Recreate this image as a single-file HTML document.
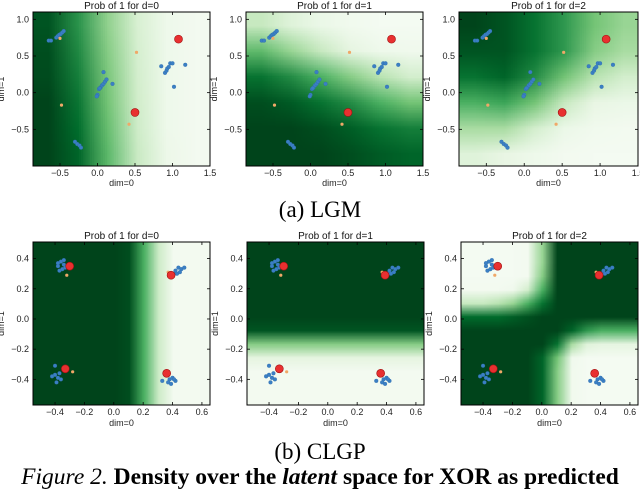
<!DOCTYPE html>
<html><head><meta charset="utf-8">
<style>
html,body{margin:0;padding:0;background:#fff;}
#wrap{position:relative;width:640px;height:495px;overflow:hidden;font-family:"Liberation Sans",sans-serif;}
canvas{position:absolute;}
svg{position:absolute;left:0;top:0;}
.cap{position:absolute;width:640px;text-align:center;font-family:"Liberation Serif",serif;color:#000;}
</style></head>
<body>
<div id="wrap">
<canvas id="h0" width="6" height="6"></canvas>
<canvas id="h1" width="6" height="6"></canvas>
<canvas id="h2" width="6" height="6"></canvas>
<canvas id="h3" width="12" height="12"></canvas>
<canvas id="h4" width="12" height="12"></canvas>
<canvas id="h5" width="12" height="12"></canvas>
<svg id="sv" width="640" height="495" xmlns="http://www.w3.org/2000/svg"></svg>
<div class="cap" style="top:197px;font-size:23px;">(a) LGM</div>
<div class="cap" style="top:439px;font-size:23px;">(b) CLGP</div>
<div class="cap" style="top:464px;font-size:23.5px;font-weight:bold;white-space:nowrap;"><i style="font-weight:normal">Figure 2.</i> Density over the <i>latent</i> space for XOR as predicted</div>
</div>
<script>
// ---- data ----
const topXTicks=[-0.5,0,0.5,1.0,1.5];
const topYTicks=[1.0,0.5,0.0,-0.5];
const botXTicks=[-0.4,-0.2,0,0.2,0.4,0.6];
const botYTicks=[0.4,0.2,0.0,-0.2,-0.4];
const titles=["Prob of 1 for d=0","Prob of 1 for d=1","Prob of 1 for d=2"];
// LGM density grids (rows top->bottom, cols left->right)
const lgmD0=[[0.95,0.72,0.42,0.18,0.06,0.03],[0.97,0.76,0.45,0.19,0.06,0.03],[0.98,0.8,0.48,0.2,0.06,0.03],[1,0.84,0.5,0.21,0.06,0.03],[1,0.87,0.53,0.22,0.06,0.03],[1,0.9,0.56,0.24,0.07,0.03]];
const lgmD1=[[0.25,0.15,0.08,0.04,0.02,0.02],[0.55,0.4,0.25,0.12,0.06,0.05],[0.85,0.75,0.6,0.45,0.3,0.2],[0.97,0.93,0.85,0.75,0.6,0.5],[1,1,0.97,0.92,0.85,0.8],[1,1,1,0.97,0.93,0.9]];
const lgmD2=[[1,0.95,0.85,0.7,0.5,0.4],[0.95,0.95,0.85,0.7,0.45,0.35],[0.85,0.9,0.75,0.5,0.3,0.2],[0.6,0.65,0.5,0.25,0.1,0.08],[0.35,0.35,0.2,0.08,0.04,0.03],[0.15,0.1,0.06,0.03,0.02,0.02]];
// CLGP profiles / grid
const clgpD0Cols=[1,1,1,1,1,1,0.97,0.6,0.22,0.03,0.03,0.03];
const clgpD1Rows=[1,1,1,1,1,1,0.95,0.45,0.12,0.03,0.03,0.03];
const clgpD2=[
[0.02,0.02,0.02,0.02,0.03,0.4,1,1,1,1,1,1],
[0.02,0.02,0.02,0.02,0.03,0.4,1,1,1,1,1,1],
[0.02,0.02,0.02,0.02,0.03,0.45,1,1,1,1,1,1],
[0.03,0.03,0.03,0.05,0.2,0.6,1,1,1,1,1,1],
[0.25,0.25,0.3,0.4,0.6,0.85,1,1,1,1,1,1],
[0.88,0.88,0.88,0.92,0.96,1,1,1,1,1,1,1],
[1,1,1,1,1,1,1,0.9,0.7,0.6,0.6,0.6],
[1,1,1,1,1,1,0.85,0.35,0.15,0.12,0.12,0.12],
[1,1,1,1,1,0.9,0.5,0.05,0.02,0.02,0.02,0.02],
[1,1,1,1,1,0.9,0.45,0.04,0.02,0.02,0.02,0.02],
[1,1,1,1,1,0.9,0.45,0.04,0.02,0.02,0.02,0.02],
[1,1,1,1,1,0.9,0.45,0.04,0.02,0.02,0.02,0.02]];
// LGM points
const lgmBlueX=[-0.55,-0.53,-0.51,-0.49,-0.47,-0.45,-0.65,-0.62,0.0,-0.01,0.02,0.04,0.06,0.08,0.1,0.12,0.08,0.2,0.03,0.85,0.9,0.92,0.93,0.95,0.97,1.0,1.17,1.02,-0.3,-0.27,-0.24,-0.22];
const lgmBlueY=[0.75,0.77,0.79,0.8,0.82,0.84,0.71,0.71,-0.03,-0.05,0.05,0.07,0.1,0.12,0.15,0.18,0.28,0.12,0.06,0.36,0.27,0.3,0.33,0.35,0.4,0.4,0.38,0.08,-0.67,-0.7,-0.72,-0.75];
const lgmRedX=[1.08,0.5];
const lgmRedY=[0.73,-0.27];
const lgmOrX=[-0.5,0.52,-0.48,0.42];
const lgmOrY=[0.74,0.55,-0.17,-0.43];
// CLGP points
const clgpBlueX=[-0.38,-0.36,-0.34,-0.37,-0.35,-0.33,-0.38,-0.34,0.42,0.44,0.46,0.43,0.48,0.45,0.41,-0.42,-0.4,-0.38,-0.36,-0.39,-0.37,-0.4,0.38,0.4,0.42,0.37,0.39,0.41,0.33];
const clgpBlueY=[0.35,0.38,0.36,0.32,0.33,0.34,0.37,0.39,0.32,0.34,0.33,0.3,0.34,0.31,0.3,-0.38,-0.37,-0.39,-0.4,-0.42,-0.36,-0.31,-0.4,-0.39,-0.41,-0.42,-0.43,-0.4,-0.41];
const clgpRedX=[-0.3,0.39,-0.33,0.36];
const clgpRedY=[0.35,0.29,-0.33,-0.36];
const clgpOrX=[-0.32,0.37,-0.28,0.35];
const clgpOrY=[0.29,0.31,-0.35,-0.36];

// ---- rendering ----
const NS="http://www.w3.org/2000/svg";
const sv=document.getElementById('sv');
const stops=[[247,252,245],[229,245,224],[199,233,192],[161,217,155],[116,196,118],[65,171,93],[35,139,69],[0,109,44],[0,68,27]];
function cmap(v){v=Math.max(0,Math.min(1,v))*8;const i=Math.min(7,Math.floor(v)),f=v-i;const a=stops[i],b=stops[i+1];return [0,1,2].map(k=>Math.round(a[k]+(b[k]-a[k])*f));}
function el(t,a,p){const e=document.createElementNS(NS,t);for(const k in a)e.setAttribute(k,a[k]);(p||sv).appendChild(e);return e;}
function fmt(v){let s=Math.abs(v).toFixed(1);return (v<-1e-9?'\u2212':'')+s;}
function fill(id,grid,box){const c=document.getElementById(id);const ctx=c.getContext('2d');const H=grid.length,W=grid[0].length;const im=ctx.createImageData(W,H);for(let r=0;r<H;r++)for(let q=0;q<W;q++){const col=cmap(grid[r][q]);const o=(r*W+q)*4;im.data[o]=col[0];im.data[o+1]=col[1];im.data[o+2]=col[2];im.data[o+3]=255;}ctx.putImageData(im,0,0);c.style.left=box.x0+'px';c.style.top=box.y0+'px';c.style.width=(box.x1-box.x0)+'px';c.style.height=(box.y1-box.y0)+'px';}
function panel(i,box,dom,xt,yt,title,bx,by,rx,ry,ox,oy,fs,tickY,labY){
  const sx=v=>box.x0+(v-dom.xmin)/(dom.xmax-dom.xmin)*(box.x1-box.x0);
  const sy=v=>box.y0+(dom.ymax-v)/(dom.ymax-dom.ymin)*(box.y1-box.y0);
  const g=el('g',{});  
  for(let k=0;k<bx.length;k++){const c=el('circle',{cx:sx(bx[k]),cy:sy(by[k]),r:1.9,fill:'#3b7fc4',stroke:'#2a6aa8','stroke-width':0.3},g);}
  for(let k=0;k<ox.length;k++){const c=el('circle',{cx:sx(ox[k]),cy:sy(oy[k]),r:1.6,fill:'#f0a868'},g);}
  for(let k=0;k<rx.length;k++){const c=el('circle',{cx:sx(rx[k]),cy:sy(ry[k]),r:4,fill:'#e83030',stroke:'#a01010','stroke-width':0.6},g);}
  el('rect',{x:box.x0,y:box.y0,width:box.x1-box.x0,height:box.y1-box.y0,fill:'none',stroke:'#000','stroke-width':1},g);
  xt.forEach(v=>{const x=sx(v);el('line',{x1:x,x2:x,y1:box.y1,y2:box.y1-3,stroke:'#000','stroke-width':0.8},g);el('line',{x1:x,x2:x,y1:box.y0,y2:box.y0+3,stroke:'#000','stroke-width':0.8},g);const t=el('text',{x:x,y:tickY,'font-size':fs,'text-anchor':'middle',fill:'#222'},g);t.textContent=fmt(v);});
  yt.forEach(v=>{const y=sy(v);el('line',{x1:box.x0,x2:box.x0+3,y1:y,y2:y,stroke:'#000','stroke-width':0.8},g);el('line',{x1:box.x1,x2:box.x1-3,y1:y,y2:y,stroke:'#000','stroke-width':0.8},g);const t=el('text',{x:box.x0-4,y:y+3,'font-size':fs,'text-anchor':'end',fill:'#222'},g);t.textContent=fmt(v);});
  const tt=el('text',{x:(box.x0+box.x1)/2,y:box.y0-3,'font-size':10,'text-anchor':'middle',fill:'#111'},g);tt.textContent=title;
  const xl=el('text',{x:(box.x0+box.x1)/2,y:labY,'font-size':fs,'text-anchor':'middle',fill:'#222'},g);xl.textContent='dim=0';
  const lx=box.x0-29,cy=(box.y0+box.y1)/2;const yl=el('text',{x:lx,y:cy,'font-size':fs,'text-anchor':'middle',fill:'#222',transform:'rotate(-90 '+lx+' '+cy+')'},g);yl.textContent='dim=1';
}
const topDom={xmin:-0.86,xmax:1.5,ymin:-1.0,ymax:1.1};
const botDom={xmin:-0.55,xmax:0.655,ymin:-0.57,ymax:0.51};
const topBoxes=[{x0:33,x1:210,y0:12,y1:166},{x0:246,x1:423,y0:12,y1:166},{x0:459,x1:638,y0:12,y1:166}];
const botBoxes=[{x0:33,x1:210,y0:242,y1:405},{x0:247,x1:424,y0:242,y1:405},{x0:461,x1:638,y0:242,y1:405}];
fill('h0',lgmD0,topBoxes[0]);fill('h1',lgmD1,topBoxes[1]);fill('h2',lgmD2,topBoxes[2]);
fill('h3',clgpD1Rows.map(()=>clgpD0Cols.slice()),botBoxes[0]);
fill('h4',clgpD1Rows.map(v=>clgpD0Cols.map(()=>v)),botBoxes[1]);
fill('h5',clgpD2,botBoxes[2]);
for(let i=0;i<3;i++){
  panel('lgm-d'+i,topBoxes[i],topDom,topXTicks,topYTicks,titles[i],lgmBlueX,lgmBlueY,lgmRedX,lgmRedY,lgmOrX,lgmOrY,9,176,186);
  panel('clgp-d'+i,botBoxes[i],botDom,botXTicks,botYTicks,titles[i],clgpBlueX,clgpBlueY,clgpRedX,clgpRedY,clgpOrX,clgpOrY,9,415,426);
}
</script>
</body></html>
